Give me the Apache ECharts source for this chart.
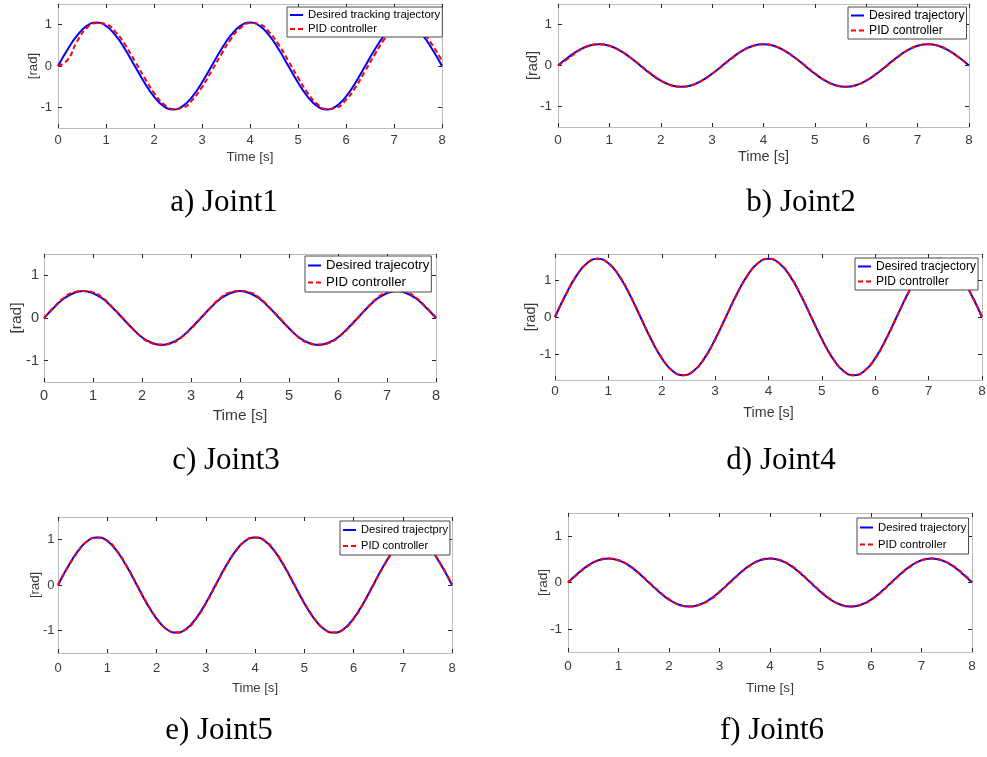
<!DOCTYPE html>
<html>
<head>
<meta charset="utf-8">
<script src="https://cdn.jsdelivr.net/npm/echarts@6/dist/echarts.min.js"></script>
<style>
  html, body { margin: 0; padding: 0; background: #ffffff; }
  #chart { width: 987px; height: 757px; }
</style>
</head>
<body>
<div id="chart"></div>
<script>
// ---- data: joint angle trajectories (rad) sampled every 0.2 s ----
const timeS = [0, 0.2, 0.4, 0.6, 0.8, 1, 1.2, 1.4, 1.6, 1.8, 2, 2.2, 2.4, 2.6, 2.8, 3, 3.2, 3.4, 3.6, 3.8,
  4, 4.2, 4.4, 4.6, 4.8, 5, 5.2, 5.4, 5.6, 5.8, 6, 6.2, 6.4, 6.6, 6.8, 7, 7.2, 7.4, 7.6, 7.8, 8];

const desiredJ1 = [0, .40, .74, .97, 1.05, .97, .74, .40, 0, -.40, -.74, -.97, -1.05, -.97, -.74, -.40,
  0, .40, .74, .97, 1.05, .97, .74, .40, 0, -.40, -.74, -.97, -1.05, -.97, -.74, -.40,
  0, .40, .74, .97, 1.05, .97, .74, .40, 0];
const pidJ1 = [0, .15, .60, .92, 1.04, 1.01, .82, .51, .12, -.28, -.65, -.92, -1.04, -1.01, -.82, -.51,
  -.12, .28, .65, .92, 1.04, 1.01, .82, .51, .12, -.28, -.65, -.92, -1.04, -1.01, -.82, -.51,
  -.12, .28, .65, .92, 1.04, 1.01, .82, .51, .12];

const desiredJ2 = [0, .20, .37, .48, .52, .48, .37, .20, 0, -.20, -.37, -.48, -.52, -.48, -.37, -.20,
  0, .20, .37, .48, .52, .48, .37, .20, 0, -.20, -.37, -.48, -.52, -.48, -.37, -.20,
  0, .20, .37, .48, .52, .48, .37, .20, 0];
const pidJ2 = [0, .17, .36, .48, .52, .48, .37, .20, .01, -.19, -.37, -.48, -.52, -.48, -.37, -.20,
  -.01, .19, .37, .48, .52, .48, .37, .20, .01, -.19, -.37, -.48, -.52, -.48, -.37, -.20,
  -.01, .19, .37, .48, .52, .48, .37, .20, .01];

const desiredJ3 = [0, .24, .45, .58, .63, .58, .45, .24, 0, -.24, -.45, -.58, -.63, -.58, -.45, -.24,
  0, .24, .45, .58, .63, .58, .45, .24, 0, -.24, -.45, -.58, -.63, -.58, -.45, -.24,
  0, .24, .45, .58, .63, .58, .45, .24, 0];
const pidJ3 = [0, .25, .47, .60, .63, .60, .47, .25, .01, -.24, -.46, -.59, -.62, -.59, -.46, -.25,
  -.01, .25, .47, .60, .63, .60, .47, .25, .01, -.24, -.46, -.59, -.62, -.59, -.46, -.25,
  -.01, .25, .47, .60, .63, .60, .47, .25, .01];

const desiredJ4 = [0, .60, 1.11, 1.45, 1.57, 1.45, 1.11, .60, 0, -.60, -1.11, -1.45, -1.57, -1.45, -1.11, -.60,
  0, .60, 1.11, 1.45, 1.57, 1.45, 1.11, .60, 0, -.60, -1.11, -1.45, -1.57, -1.45, -1.11, -.60,
  0, .60, 1.11, 1.45, 1.57, 1.45, 1.11, .60, 0];
const pidJ4 = [0, .59, 1.10, 1.45, 1.57, 1.45, 1.12, .61, .01, -.59, -1.10, -1.45, -1.57, -1.45, -1.12, -.61,
  -.01, .59, 1.10, 1.45, 1.57, 1.45, 1.12, .61, .01, -.59, -1.10, -1.45, -1.57, -1.45, -1.12, -.61,
  -.01, .59, 1.10, 1.45, 1.57, 1.45, 1.12, .61, .01];

const desiredJ5 = [0, .40, .74, .97, 1.05, .97, .74, .40, 0, -.40, -.74, -.97, -1.05, -.97, -.74, -.40,
  0, .40, .74, .97, 1.05, .97, .74, .40, 0, -.40, -.74, -.97, -1.05, -.97, -.74, -.40,
  0, .40, .74, .97, 1.05, .97, .74, .40, 0];
const pidJ5 = [0, .39, .73, .97, 1.05, .98, .75, .41, .01, -.39, -.73, -.97, -1.05, -.98, -.75, -.41,
  -.01, .39, .73, .97, 1.05, .98, .75, .41, .01, -.39, -.73, -.97, -1.05, -.98, -.75, -.41,
  -.01, .39, .73, .97, 1.05, .98, .75, .41, .01];

const desiredJ6 = [0, .20, .37, .48, .52, .48, .37, .20, 0, -.20, -.37, -.48, -.52, -.48, -.37, -.20,
  0, .20, .37, .48, .52, .48, .37, .20, 0, -.20, -.37, -.48, -.52, -.48, -.37, -.20,
  0, .20, .37, .48, .52, .48, .37, .20, 0];
const pidJ6 = [0, .19, .36, .48, .52, .48, .38, .21, .01, -.19, -.36, -.48, -.52, -.48, -.38, -.21,
  -.01, .19, .36, .48, .52, .48, .38, .21, .01, -.19, -.36, -.48, -.52, -.48, -.38, -.21,
  -.01, .19, .36, .48, .52, .48, .38, .21, .01];

const desiredSets = [desiredJ1, desiredJ2, desiredJ3, desiredJ4, desiredJ5, desiredJ6];
const pidSets = [pidJ1, pidJ2, pidJ3, pidJ4, pidJ5, pidJ6];

// ---- text ----
const desiredNames = ['Desired tracking trajectory', 'Desired trajectory', 'Desired trajecotry',
  'Desired tracjectory', 'Desired trajectpry', 'Desired trajectory'];
const pidName = 'PID controller';
const captions = ['a) Joint1', 'b) Joint2', 'c) Joint3', 'd) Joint4', 'e) Joint5', 'f) Joint6'];
const xAxisTitle = 'Time [s]';
const yAxisTitle = '[rad]';
const xTickRange = [0, 8];
const xTickStep = 1;
const yTicks = [-1, 0, 1];
const yLimits = [1.5, 1.5, 1.5, 1.7, 1.5, 1.5];

// ---- layout of the six panels (pixels) ----
const layout = [
  { grid: { left: 58,  top: 4,   width: 384, height: 124 }, tick: 13,   name: 13.3, xMargin: 5.5, yMargin: 6, xGap: 22.5, yGap: 18,
    legend: { left: 287, top: 7,   font: 11.4, row: 14 }, caption: [224, 203] },
  { grid: { left: 558, top: 4,   width: 411, height: 123 }, tick: 13.5, name: 14.5, xMargin: 6,   yMargin: 6, xGap: 22.5, yGap: 17.5,
    legend: { left: 848, top: 7,   font: 12.2, row: 15 }, caption: [801, 203] },
  { grid: { left: 44,  top: 254, width: 392, height: 128 }, tick: 14.5, name: 15.5, xMargin: 6.5, yMargin: 5, xGap: 26, yGap: 19,
    legend: { left: 305, top: 256, font: 13.2, row: 17 }, caption: [226, 461] },
  { grid: { left: 555, top: 254, width: 427, height: 126 }, tick: 13.5, name: 14.3, xMargin: 4.5, yMargin: 3.5, xGap: 26, yGap: 17,
    legend: { left: 855, top: 258, font: 12,   row: 15 }, caption: [781, 461] },
  { grid: { left: 58,  top: 517, width: 394, height: 136 }, tick: 13,   name: 13.1, xMargin: 8.5, yMargin: 3.5, xGap: 28.5, yGap: 16.5,
    legend: { left: 340, top: 521, font: 11.1, row: 16 }, caption: [219, 731] },
  { grid: { left: 568, top: 513, width: 404, height: 139 }, tick: 13.5, name: 13.6, xMargin: 7.5, yMargin: 6, xGap: 29, yGap: 17.5,
    legend: { left: 857, top: 518, font: 11.3, row: 17 }, caption: [772, 731] }
];

const SANS = 'Arial, "Liberation Sans", Helvetica, sans-serif';
const SERIF = '"Times New Roman", "Liberation Serif", serif';
const AXIS_LINE = '#bcbcbc';
const TICK = '#262626';
const LABEL = '#3a3a3a';

const grids = [], xAxes = [], yAxes = [], series = [], legends = [], graphics = [];

layout.forEach((p, i) => {
  grids.push(Object.assign({ containLabel: false, outerBoundsMode: 'none' }, p.grid));

  const tickStyle = { show: true, inside: true, length: 4, lineStyle: { color: TICK, width: 1 } };
  const lineStyle = { show: true, onZero: false, lineStyle: { color: AXIS_LINE, width: 1 } };

  // bottom time axis
  xAxes.push({
    type: 'value', gridIndex: i, position: 'bottom',
    min: xTickRange[0], max: xTickRange[1], interval: xTickStep,
    axisLine: lineStyle, axisTick: tickStyle, splitLine: { show: false },
    axisLabel: { show: true, margin: p.xMargin, fontSize: p.tick, fontFamily: SANS, color: LABEL,
      showMinLabel: true, showMaxLabel: true },
    name: xAxisTitle, nameLocation: 'middle', nameGap: p.xGap, nameMoveOverlap: false,
    nameTextStyle: { fontSize: p.name, fontFamily: SANS, color: LABEL }
  });
  // top box edge with mirrored ticks
  xAxes.push({
    type: 'value', gridIndex: i, position: 'top',
    min: xTickRange[0], max: xTickRange[1], interval: xTickStep,
    axisLine: lineStyle, axisTick: tickStyle, splitLine: { show: false },
    axisLabel: { show: false }
  });
  // left angle axis
  yAxes.push({
    type: 'value', gridIndex: i, position: 'left',
    min: -yLimits[i], max: yLimits[i],
    axisLine: lineStyle,
    axisTick: Object.assign({ customValues: yTicks }, tickStyle),
    splitLine: { show: false },
    axisLabel: { show: true, customValues: yTicks, margin: p.yMargin, fontSize: p.tick, fontFamily: SANS, color: LABEL },
    name: yAxisTitle, nameLocation: 'middle', nameGap: p.yGap, nameMoveOverlap: false,
    nameTextStyle: { fontSize: p.name, fontFamily: SANS, color: LABEL }
  });
  // right box edge with mirrored ticks
  yAxes.push({
    type: 'value', gridIndex: i, position: 'right',
    min: -yLimits[i], max: yLimits[i],
    axisLine: lineStyle,
    axisTick: Object.assign({ customValues: yTicks }, tickStyle),
    splitLine: { show: false },
    axisLabel: { show: false }
  });

  const desired = desiredSets[i].map((v, k) => [timeS[k], v]);
  const pid = pidSets[i].map((v, k) => [timeS[k], v]);

  series.push({
    type: 'line', name: desiredNames[i], xAxisIndex: 2 * i, yAxisIndex: 2 * i,
    data: desired, smooth: true, symbol: 'none', clip: true, z: 2,
    lineStyle: { color: '#0000ff', width: 2 }, itemStyle: { color: '#0000ff' }
  });
  series.push({
    type: 'line', name: pidName, xAxisIndex: 2 * i, yAxisIndex: 2 * i,
    data: pid, smooth: true, symbol: 'none', clip: true, z: 3,
    lineStyle: { color: '#ff0000', width: 2, type: [5, 3] }, itemStyle: { color: '#ff0000' }
  });

  legends.push({
    data: [desiredNames[i], pidName],
    orient: 'vertical', left: p.legend.left, top: p.legend.top,
    itemWidth: 13, itemHeight: p.legend.row, itemGap: 0,
    padding: [1, 2, 1, 2],
    backgroundColor: '#ffffff', borderColor: '#4a4a4a', borderWidth: 1, borderRadius: 0,
    selectedMode: false,
    itemStyle: { opacity: 0, borderWidth: 0 },
    textStyle: { fontSize: p.legend.font, fontFamily: SANS, color: '#000', lineHeight: p.legend.row }
  });

  graphics.push({
    type: 'text', x: p.caption[0], y: p.caption[1],
    style: { text: captions[i], font: '31px ' + SERIF, fill: '#000',
      align: 'center', verticalAlign: 'middle', textAlign: 'center', textVerticalAlign: 'middle' }
  });
});

const chart = echarts.init(document.getElementById('chart'), null, { renderer: 'canvas' });
chart.setOption({
  animation: false,
  backgroundColor: '#ffffff',
  grid: grids,
  xAxis: xAxes,
  yAxis: yAxes,
  legend: legends,
  series: series,
  graphic: graphics
});
</script>
</body>
</html>
